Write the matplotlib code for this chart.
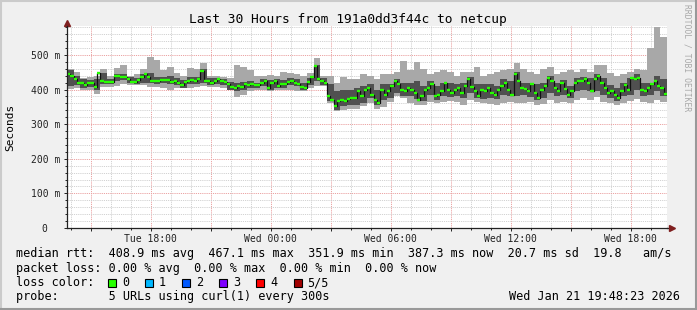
import numpy as np
import matplotlib
matplotlib.use("Agg")
import matplotlib.pyplot as plt
import matplotlib.dates as mdates
from matplotlib.lines import Line2D
from matplotlib.patches import Rectangle
from matplotlib.ticker import FuncFormatter, MultipleLocator

plt.rcParams['font.family'] = ['DejaVu Sans Mono']

# median rtt in ms, one value every 10 minutes
median_ms = [
    445, 440, 430, 420, 420, 412, 420, 418, 408, 448,
    425, 422, 422, 422, 438, 438, 437, 437, 430, 422,
    422, 428, 435, 444, 435, 426, 426, 426, 427, 427,
    427, 422, 425, 420, 413, 422, 425, 428, 425, 430,
    454, 425, 425, 420, 425, 430, 425, 422, 415, 407,
    405, 410, 408, 415, 412, 415, 412, 412, 420, 425,
    405, 418, 425, 410, 415, 415, 422, 425, 420, 415,
    408, 405, 422, 435, 467, 430, 425, 420, 380, 370,
    352, 366, 370, 366, 372, 375,
    375, 395, 380, 400, 405, 385, 370, 361, 400, 385,
    395, 410, 425, 415, 400, 395, 405, 400, 390, 370,
    380, 400, 405, 415, 380, 385, 395, 420, 400, 390,
    400, 405, 390, 410, 430, 408, 395, 380, 400, 395,
    405, 390, 385, 400, 410, 420, 400, 385, 444, 425,
    405, 402, 395, 415, 390, 375, 400, 410, 434, 425,
    405, 395, 420, 402, 385, 395, 420, 425, 425, 430,
    420, 395, 430, 440, 420, 405, 390, 395, 385, 375,
    395, 412, 400, 434, 430, 434, 400, 395, 405, 415,
    425, 410, 405, 387,
]

# smoke, one value every 20 minutes
smoke_max = [
    458, 452, 434, 436, 440, 458, 438, 462, 470, 440,
    445, 458, 495, 485, 455, 465, 448, 440, 462, 460,
    478, 440, 438, 436, 432, 472, 465, 455, 438, 440,
    442, 438, 452, 448, 445, 440, 448, 492, 440, 438,
    420, 436, 430,
    430, 444, 440, 430, 445, 445, 450, 483, 455, 480,
    460, 445, 450, 455, 450, 440, 450, 452, 465, 440,
    445, 450, 455, 458, 478, 460, 450, 445, 458, 465,
    445, 450, 455, 450, 460, 452, 470, 470, 448, 440,
    445, 450, 460, 455, 520, 580, 552,
]
smoke_min = [
    402, 405, 398, 400, 388, 408, 408, 410, 415, 413,
    412, 412, 408, 406, 405, 400, 405, 404, 405, 408,
    410, 408, 406, 405, 398, 378, 385, 395, 398, 400,
    395, 398, 400, 398, 397, 395, 405, 410, 410, 360,
    338, 340, 345,
    345, 352, 360, 345, 350, 365, 380, 375, 360, 355,
    355, 365, 360, 365, 368, 365, 355, 370, 365, 360,
    358, 355, 360, 365, 362, 360, 365, 355, 358, 370,
    360, 365, 360, 370, 375, 370, 378, 365, 360, 355,
    360, 368, 372, 365, 360, 370, 365,
]
dark_hi = [
    455, 438, 430, 428, 430, 448, 430, 445, 445, 436,
    432, 445, 448, 436, 435, 438, 432, 428, 436, 436,
    458, 432, 432, 430, 422, 418, 422, 424, 420, 430,
    428, 430, 428, 432, 430, 418, 432, 470, 432, 415,
    395, 400, 398,
    405, 410, 415, 400, 415, 415, 430, 420, 420, 425,
    410, 425, 410, 420, 420, 415, 420, 435, 415, 415,
    415, 410, 430, 425, 450, 420, 418, 415, 420, 440,
    420, 428, 410, 432, 435, 432, 445, 432, 412, 405,
    420, 432, 445, 420, 420, 440, 430,
]
dark_lo = [
    410, 412, 405, 408, 398, 415, 415, 425, 428, 418,
    415, 420, 420, 415, 418, 416, 414, 405, 415, 415,
    418, 414, 416, 414, 400, 395, 400, 405, 404, 410,
    398, 405, 405, 412, 410, 400, 412, 425, 412, 368,
    342, 352, 355,
    355, 360, 375, 355, 370, 375, 390, 380, 380, 372,
    368, 385, 370, 380, 378, 380, 375, 390, 375, 372,
    375, 372, 385, 380, 380, 385, 378, 370, 375, 390,
    380, 385, 375, 395, 400, 395, 395, 385, 375, 368,
    380, 385, 398, 380, 385, 395, 380,
]

loss_labels = ['0', '1', '2', '3', '4', '5/5']
loss_colors = ['#26ff00', '#00b8ff', '#0059ff', '#7e00ff', '#ff0000', '#a10000']

title = "Last 30 Hours from 191a0dd3f44c to netcup"
legend_lines = [
    "median rtt:  408.9 ms avg  467.1 ms max  351.9 ms min  387.3 ms now  20.7 ms sd  19.8   am/s",
    "packet loss: 0.00 % avg  0.00 % max  0.00 % min  0.00 % now",
    "loss color:",
    "probe:       5 URLs using curl(1) every 300s",
]
stamp = "Wed Jan 21 19:48:23 2026"

W, H = 697, 310
start = np.datetime64('2026-01-20T13:48:23')
end = start + np.timedelta64(30, 'h')


def fx(px):
    return px / W


def fy(py):
    return 1 - py / H


def main():
    fig = plt.figure(figsize=(W / 100, H / 100), dpi=100, facecolor='#f0f0f0')
    ax = fig.add_axes([fx(67), fy(228), 600 / W, 202.2 / H])
    ax.set_facecolor('white')

    t_med = mdates.date2num(start + np.arange(len(median_ms)) * np.timedelta64(10, 'm'))
    step_m = 10 / 1440
    t_smk = mdates.date2num(start + np.arange(len(smoke_max)) * np.timedelta64(20, 'm'))
    step_s = 20 / 1440

    # smoke
    ts = np.append(t_smk, t_smk[-1] + step_s)
    ax.fill_between(ts, np.append(smoke_min, smoke_min[-1]), np.append(smoke_max, smoke_max[-1]),
                    step='post', color='#a8a8a8', lw=0, zorder=2)
    ax.fill_between(ts, np.append(dark_lo, dark_lo[-1]), np.append(dark_hi, dark_hi[-1]),
                    step='post', color='#505050', lw=0, zorder=3)

    # median
    tm = np.append(t_med, t_med[-1] + step_m)
    ax.step(tm, np.append(median_ms, median_ms[-1]), where='post', color='#111111', lw=0.9, zorder=4)
    ax.hlines(median_ms, t_med, t_med + step_m, colors='#26ff00', lw=1.7, zorder=5)

    # axes and grid
    ax.set_xlim(mdates.date2num(start), mdates.date2num(end))
    ax.set_ylim(0, 584)
    ax.xaxis.set_major_locator(mdates.HourLocator(byhour=range(0, 24, 3)))
    ax.xaxis.set_minor_locator(mdates.HourLocator())

    def xfmt(v, pos):
        d = mdates.num2date(v)
        return d.strftime('%a %H:%M') if d.hour % 6 == 0 else ''
    ax.xaxis.set_major_formatter(FuncFormatter(xfmt))
    ax.yaxis.set_major_locator(MultipleLocator(100))
    ax.yaxis.set_minor_locator(MultipleLocator(20))
    ax.yaxis.set_major_formatter(FuncFormatter(lambda v, p: '0  ' if v == 0 else f'{int(v)} m'))

    ax.grid(which='minor', color='#d2d2d2', lw=0.7, ls=(0, (1.2, 1.0)), zorder=1)
    ax.grid(which='major', color='#eba3a3', lw=0.7, ls=(0, (1.2, 1.0)), zorder=1)
    ax.set_axisbelow(True)

    ax.tick_params(which='both', labelsize=7, colors='#222222', length=2, width=0.7)
    ax.tick_params(which='minor', length=1.2)
    ax.tick_params(axis='y', pad=3)
    ax.tick_params(axis='x', pad=2.5)

    for s in ['top', 'right']:
        ax.spines[s].set_visible(False)
    for s in ['left', 'bottom']:
        ax.spines[s].set_color('#222222')
        ax.spines[s].set_linewidth(0.9)
        ax.spines[s].set_zorder(6)

    # axis arrows
    ax.plot([0, 0], [1, 1.01], transform=ax.transAxes, color='#222222', lw=0.9, clip_on=False)
    ax.plot([0], [1.015], transform=ax.transAxes, marker='^', ms=4.5, color='#7f1f1f', clip_on=False)
    ax.plot([1, 1.006], [0, 0], transform=ax.transAxes, color='#222222', lw=0.9, clip_on=False)
    ax.plot([1.008], [0], transform=ax.transAxes, marker='>', ms=4.5, color='#7f1f1f', clip_on=False)

    ax.set_ylabel('Seconds', fontsize=8)
    ax.yaxis.set_label_coords((15 - 67) / 600, 0.5)

    fig.text(fx(347.5), fy(19), title, ha='center', va='center', fontsize=9.3)
    fig.text(fx(687), fy(58), "RRDTOOL / TOBI OETIKER", rotation=270, ha='center', va='center',
             fontsize=5.8, color='#a8a8a8')

    for i, line in enumerate(legend_lines):
        fig.text(fx(16), fy(254 + 14.3 * i), line, ha='left', va='center', fontsize=8.5)
    fig.text(fx(680), fy(297), stamp, ha='right', va='center', fontsize=8.5)

    # loss colour boxes
    for i, (lab, col) in enumerate(zip(loss_labels, loss_colors)):
        bx = 108 + 37.1 * i
        fig.add_artist(Rectangle((fx(bx), fy(286.5)), 8 / W, 8 / H, transform=fig.transFigure,
                                 facecolor=col, edgecolor='black', lw=0.8))
        fig.text(fx(bx + 14), fy(282.7), lab, ha='left', va='center', fontsize=8.5)

    # frame shading
    fig.add_artist(Line2D([0, 1], [fy(0.7), fy(0.7)], transform=fig.transFigure, color='#cbcbcb', lw=1.5))
    fig.add_artist(Line2D([fx(0.7), fx(0.7)], [0, 1], transform=fig.transFigure, color='#cbcbcb', lw=1.5))
    fig.add_artist(Line2D([0, 1], [fy(309.3), fy(309.3)], transform=fig.transFigure, color='#999999', lw=1.5))
    fig.add_artist(Line2D([fx(696.3), fx(696.3)], [0, 1], transform=fig.transFigure, color='#999999', lw=1.5))

    fig.savefig('out.png', dpi=100, facecolor=fig.get_facecolor())


if __name__ == "__main__":
    main()
